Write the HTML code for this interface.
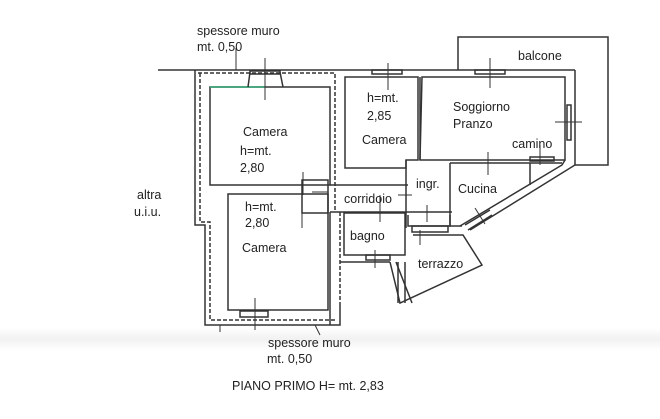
<!DOCTYPE html>
<html><head><meta charset="utf-8"><style>
html,body{margin:0;padding:0;background:#fff;}
svg{display:block}
text{font-family:"Liberation Sans",sans-serif;font-size:12.5px;fill:#222}
</style></head><body>
<svg width="660" height="419" viewBox="0 0 660 419" xmlns="http://www.w3.org/2000/svg">
<defs><linearGradient id="g" x1="0" y1="0" x2="0" y2="1"><stop offset="0" stop-color="#fff"/><stop offset="0.5" stop-color="#f1f1f1"/><stop offset="1" stop-color="#fff"/></linearGradient></defs>
<rect width="660" height="419" fill="#fff"/>
<rect x="0" y="328" width="660" height="22" fill="url(#g)"/>
<g stroke="#333" stroke-width="1.5" fill="none">
<line x1="158" y1="70" x2="575" y2="70"/>
<path d="M195 70 V225 H205 V325 H340 V305"/>
<path d="M198 73 H335 V210" stroke-dasharray="4,2"/>
<path d="M200 73 V222 H210 V320 H335" stroke-dasharray="4,2"/>
<rect x="210" y="87" width="120" height="98"/>
<line x1="210" y1="87" x2="265" y2="87" stroke="#3a7" stroke-width="1.5"/>
<path d="M250 72 L248 87 M280 72 L283 87"/>
<rect x="250" y="71" width="30" height="3"/>
<rect x="228" y="194" width="100" height="116"/>
<rect x="240" y="311" width="28" height="6"/>
<path d="M345 77 H418 V160 H406 V168 H345 Z"/>
<rect x="372" y="70" width="30" height="4"/>
<path d="M422 77 H565 V160 H420 Z"/>
<path d="M406 160 V228 M420 160 V77"/>
<path d="M575 70 V165 L470 230"/>
<path d="M565 160 L562 165 L460 226"/>
<rect x="475" y="70" width="30" height="4"/>
<rect x="567" y="105" width="4" height="35"/>
<rect x="530" y="157" width="24" height="4"/>
<path d="M450 163 H562 M450 163 V226 H462"/>
<path d="M530 163 V185"/>
<path d="M465 225 L490 210 M468 230 L492 215"/>
<path d="M458 70 V37 H608 V165 H575"/>
<rect x="302" y="180" width="26" height="33"/>
<path d="M330 185 H408 M330 212 H408"/>
<path d="M408 212 H452 M408 215 V226 H450 V215"/>
<rect x="412" y="226" width="36" height="6"/>
<rect x="344" y="213" width="61" height="42"/>
<rect x="366" y="255" width="24" height="5"/>
<path d="M340 212 V305" stroke-dasharray="4,2"/>
<path d="M330 212 V325"/>
<path d="M340 262 H390"/>
<path d="M413 235 H463 L482 265 L400 303 L390 262"/>
<path d="M405 262 V303 M398 262 V303"/>
<path d="M396 262 L412 303"/>
</g>
<g stroke="#333" stroke-width="1" fill="none">
<path d="M265 58 V100 M388 63 V90 M490 58 V88 M555 122 H582 M540 145 V165 M488 152 V175 M303 172 V195 M302 213 V228 M312 192 H328 M380 195 V222 M398 195 H412 M375 250 V268 M427 205 V222 M420 230 V245 M255 298 V330 M236 48 V70 M315 325 L320 335 M475 208 L485 224 M220 325 V332"/>
</g>
<text x="197" y="35">spessore muro</text>
<text x="197" y="51">mt. 0,50</text>
<text x="518" y="60">balcone</text>
<text x="243" y="136">Camera</text>
<text x="240" y="155">h=mt.</text>
<text x="240" y="172">2,80</text>
<text x="367" y="102">h=mt.</text>
<text x="367" y="120">2,85</text>
<text x="362" y="144">Camera</text>
<text x="453" y="111">Soggiorno</text>
<text x="453" y="128">Pranzo</text>
<text x="512" y="148">camino</text>
<text x="416" y="188">ingr.</text>
<text x="458" y="193">Cucina</text>
<text x="137" y="199">altra</text>
<text x="134" y="216">u.i.u.</text>
<text x="344" y="203">corridoio</text>
<text x="350" y="240">bagno</text>
<text x="418" y="268">terrazzo</text>
<text x="245" y="211">h=mt.</text>
<text x="245" y="227">2,80</text>
<text x="242" y="252">Camera</text>
<text x="268" y="347">spessore muro</text>
<text x="267" y="363">mt. 0,50</text>
<text x="232" y="390">PIANO PRIMO H= mt. 2,83</text>
</svg>
</body></html>
